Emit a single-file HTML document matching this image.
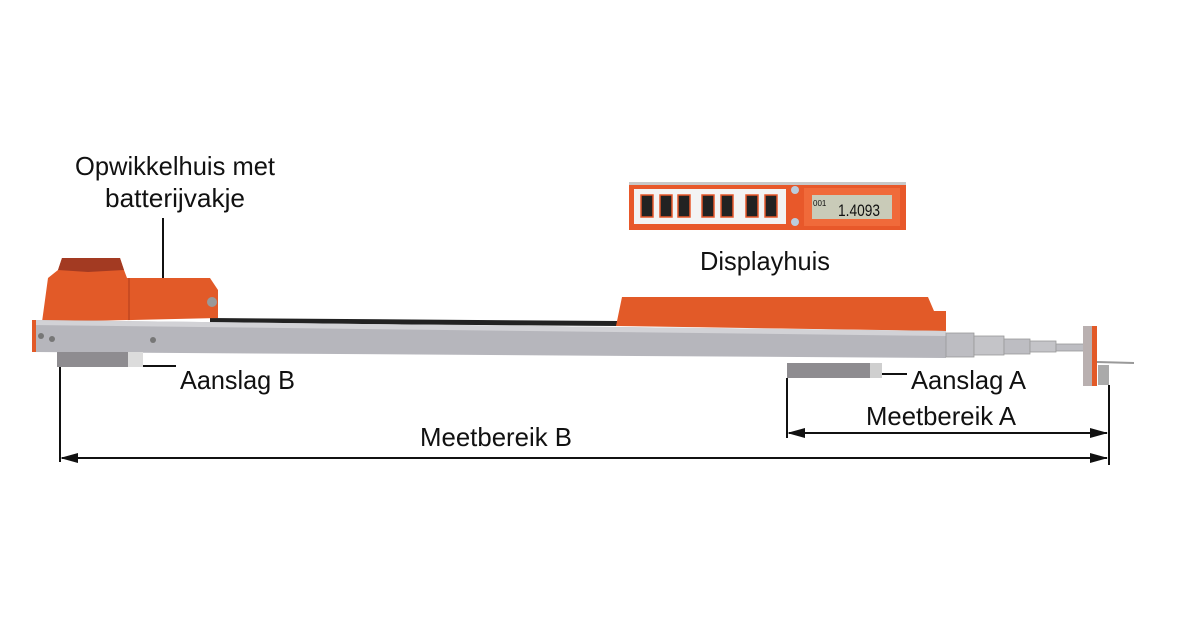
<!DOCTYPE html>
<html><head><meta charset="utf-8"><style>html,body{margin:0;padding:0;background:#fff}svg{display:block}</style></head>
<body>
<svg width="1200" height="640" viewBox="0 0 1200 640" xmlns="http://www.w3.org/2000/svg" font-family="'Liberation Sans Narrow','Liberation Sans',sans-serif" fill="#111">
<!-- labels -->
<text x="75" y="175" font-size="26" textLength="200" lengthAdjust="spacingAndGlyphs">Opwikkelhuis met</text>
<text x="105" y="207" font-size="26" textLength="140" lengthAdjust="spacingAndGlyphs">batterijvakje</text>
<line x1="163" y1="218" x2="163" y2="287" stroke="#111" stroke-width="2"/>
<!-- display panel -->
<rect x="629" y="182" width="277" height="48" fill="#e8582a"/>
<rect x="629" y="182" width="277" height="3" fill="#c8c8c8"/>
<rect x="634" y="189" width="152" height="35" fill="#f3f3f3"/>
<g fill="#222" stroke="#e8582a" stroke-width="1.5">
<rect x="641" y="195" width="12" height="22"/><rect x="660" y="195" width="12" height="22"/><rect x="678" y="195" width="12" height="22"/>
<rect x="702" y="195" width="12" height="22"/><rect x="721" y="195" width="12" height="22"/>
<rect x="746" y="195" width="12" height="22"/><rect x="765" y="195" width="12" height="22"/></g>
<circle cx="795" cy="190" r="4" fill="#bcd"/><circle cx="795" cy="222" r="4" fill="#bcd"/>
<rect x="804" y="188" width="96" height="38" fill="#f06a3a"/>
<rect x="812" y="195" width="80" height="24" fill="#c9cbb8"/>
<text x="813" y="206" font-size="8">001</text>
<text x="838" y="216" font-size="17" textLength="42" lengthAdjust="spacingAndGlyphs">1.4093</text>
<text x="700" y="270" font-size="26" textLength="130" lengthAdjust="spacingAndGlyphs">Displayhuis</text>
<!-- dark strip -->
<polygon points="210,318 618,321 618,326 210,323" fill="#222"/>
<!-- left housing -->
<polygon points="58,270 62,258 120,258 124,270 127,278 210,278 218,290 218,318 42,322 48,278" fill="#e25a28"/>
<polygon points="58,270 62,258 120,258 124,270 88,272" fill="#a33a22"/>
<rect x="128" y="278" width="2" height="42" fill="#c84b22"/>
<circle cx="212" cy="302" r="5" fill="#999"/>
<!-- right housing -->
<polygon points="622,297 928,297 934,311 946,311 946,331 616,326" fill="#e25a28"/>
<!-- rail -->
<polygon points="32,320 946,331 946,358 32,352" fill="#b6b6bc"/>
<polygon points="32,320 946,331 946,336 32,325" fill="#d2d2d6"/>
<rect x="32" y="320" width="4" height="32" fill="#e25a28"/>
<circle cx="41" cy="336" r="3" fill="#777"/><circle cx="52" cy="339" r="3" fill="#777"/><circle cx="153" cy="340" r="3" fill="#777"/>
<!-- telescoping -->
<rect x="946" y="333" width="28" height="24" fill="#bdbdc2" stroke="#999" stroke-width=".8"/>
<rect x="974" y="336" width="30" height="19" fill="#c4c4c8" stroke="#999" stroke-width=".8"/>
<rect x="1004" y="339" width="26" height="15" fill="#bdbdc2" stroke="#999" stroke-width=".8"/>
<rect x="1030" y="341" width="26" height="11" fill="#c4c4c8" stroke="#999" stroke-width=".8"/>
<rect x="1056" y="344" width="28" height="7" fill="#bdbdc2" stroke="#999" stroke-width=".8"/>
<rect x="1083" y="326" width="10" height="60" fill="#b9b0b0"/>
<rect x="1092" y="326" width="5" height="60" fill="#e25a28"/>
<line x1="1097" y1="362" x2="1134" y2="363" stroke="#999" stroke-width="2"/>
<rect x="1098" y="365" width="11" height="20" fill="#aaa"/>
<!-- Aanslag B -->
<rect x="57" y="352" width="71" height="15" fill="#8e8c90"/>
<rect x="128" y="352" width="15" height="15" fill="#dcdcdc"/>
<line x1="143" y1="366" x2="176" y2="366" stroke="#111" stroke-width="2"/>
<text x="180" y="389" font-size="26" textLength="115" lengthAdjust="spacingAndGlyphs">Aanslag B</text>
<!-- Aanslag A -->
<rect x="787" y="363" width="83" height="15" fill="#8e8c90"/>
<rect x="870" y="363" width="12" height="15" fill="#cfcfcf"/>
<line x1="882" y1="374" x2="907" y2="374" stroke="#111" stroke-width="2"/>
<text x="911" y="389" font-size="26" textLength="115" lengthAdjust="spacingAndGlyphs">Aanslag A</text>
<!-- dimension lines -->
<g stroke="#111" stroke-width="2">
<line x1="60" y1="367" x2="60" y2="462"/>
<line x1="787" y1="378" x2="787" y2="438"/>
<line x1="1109" y1="385" x2="1109" y2="465"/>
<line x1="62" y1="458" x2="1107" y2="458"/>
<line x1="789" y1="433" x2="1107" y2="433"/>
</g>
<polygon points="60,458 78,453 78,463" /><polygon points="1108,458 1090,453 1090,463"/>
<polygon points="787,433 805,428 805,438" /><polygon points="1108,433 1090,428 1090,438"/>
<text x="866" y="425" font-size="26" textLength="150" lengthAdjust="spacingAndGlyphs">Meetbereik A</text>
<text x="420" y="446" font-size="26" textLength="152" lengthAdjust="spacingAndGlyphs">Meetbereik B</text>
</svg>
</body></html>
